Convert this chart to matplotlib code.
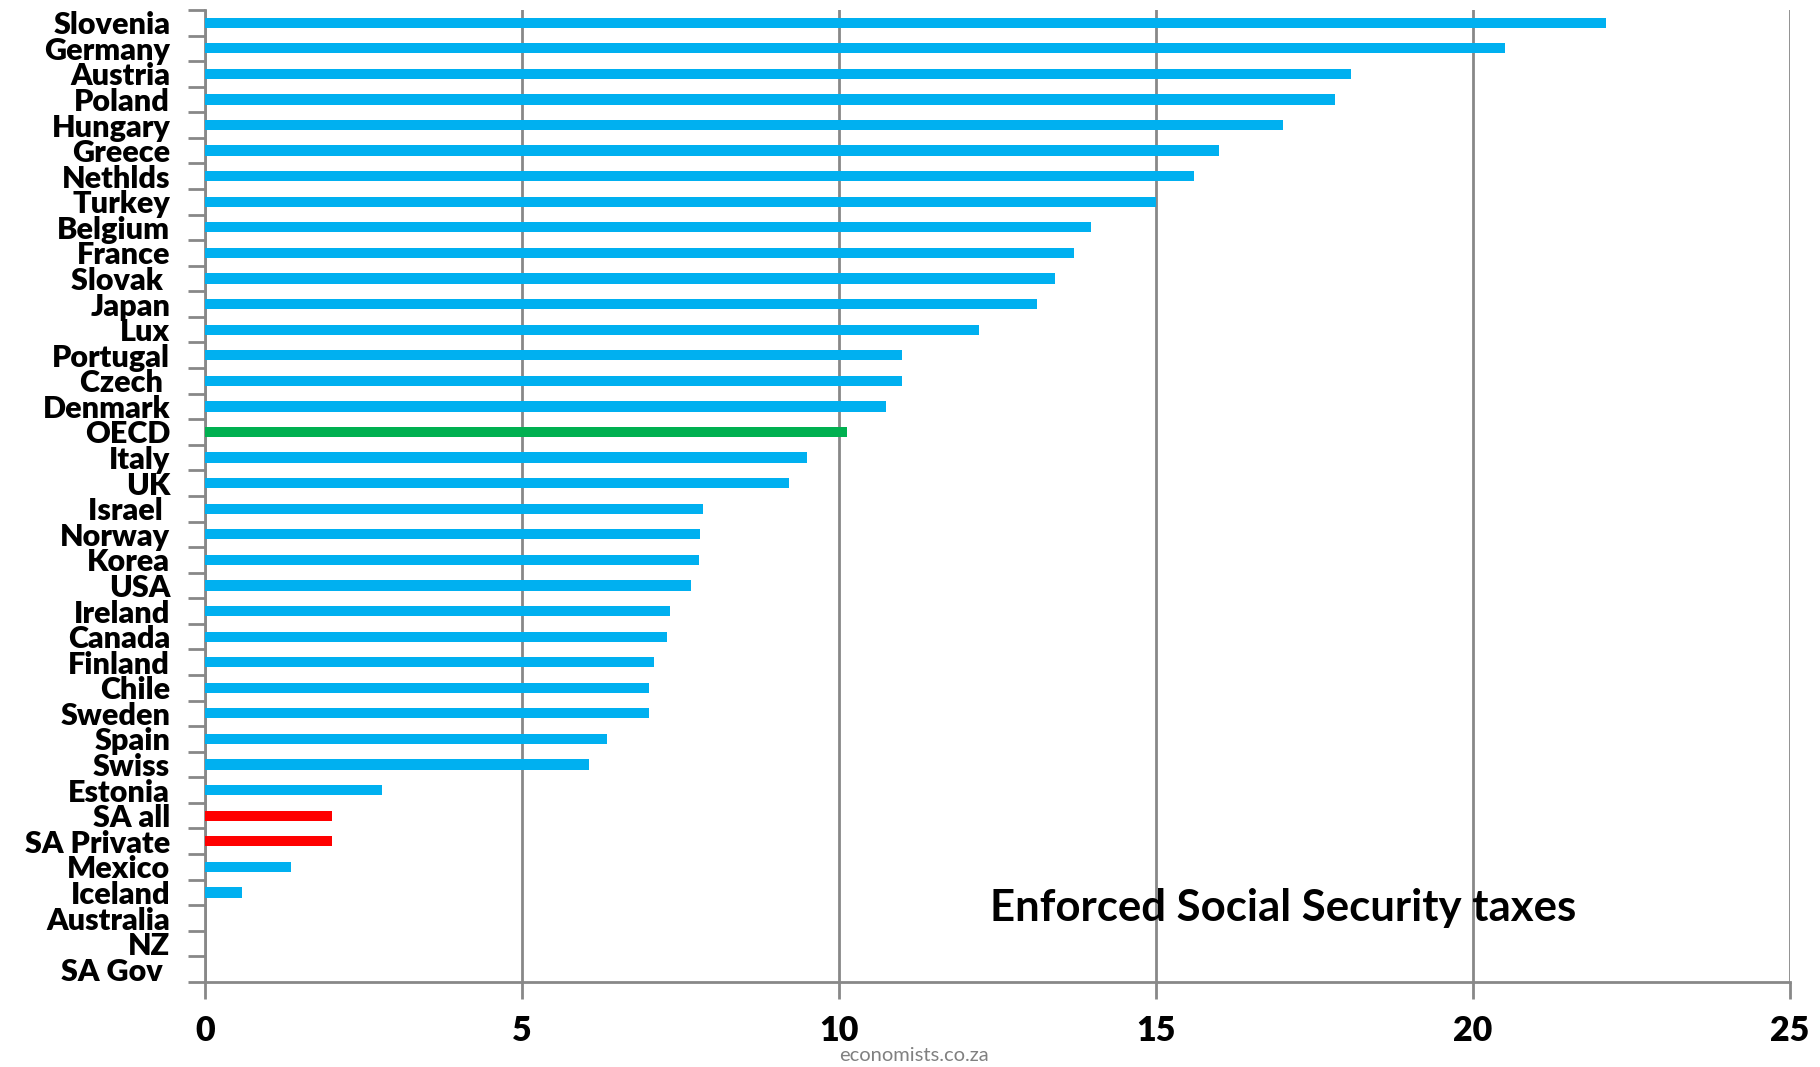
import matplotlib
matplotlib.use('Agg')
import matplotlib.pyplot as plt
import numpy as np

countries = ['Slovenia', 'Germany', 'Austria', 'Poland', 'Hungary', 'Greece', 'Nethlds',
             'Turkey', 'Belgium', 'France', 'Slovak ', 'Japan', 'Lux', 'Portugal', 'Czech ',
             'Denmark', 'OECD', 'Italy', 'UK', 'Israel ', 'Norway', 'Korea', 'USA', 'Ireland',
             'Canada', 'Finland', 'Chile', 'Sweden', 'Spain', 'Swiss', 'Estonia', 'SA all',
             'SA Private', 'Mexico', 'Iceland', 'Australia', 'NZ', 'SA Gov ']
values = [22.1, 20.5, 18.07, 17.83, 17.0, 16.0, 15.6, 15.0, 13.98, 13.71, 13.4, 13.12, 12.21,
          11.0, 11.0, 10.74, 10.13, 9.49, 9.22, 7.85, 7.81, 7.79, 7.66, 7.33, 7.29, 7.09,
          7.0, 7.0, 6.34, 6.05, 2.79, 2.0, 2.0, 1.36, 0.59, 0.0, 0.0, 0.0]
highlight = {'OECD': '#00B050', 'SA all': '#FF0000', 'SA Private': '#FF0000'}
x_ticks = [0, 5, 10, 15, 20, 25]

colors = [highlight.get(c, '#00B0F0') for c in countries]
ypos = np.arange(len(countries))

fig = plt.figure(figsize=(18.2, 10.67), dpi=100)
ax = fig.add_axes([0.1126, 0.0797, 0.8709, 0.911])
ax.barh(ypos, values, height=0.4, color=colors, zorder=3)
ax.set_ylim(len(countries) - 0.5, -0.5)
ax.set_xlim(0, 25)

# labels at bar centres, tick marks at category boundaries (Excel style)
ax.set_yticks(ypos)
ax.set_yticklabels(countries, fontfamily='Lato', fontweight='heavy', fontsize=22)
ax.tick_params(axis='y', length=0, pad=25)
ax.set_yticks(np.arange(len(countries) + 1) - 0.5, minor=True)
ax.tick_params(axis='y', which='minor', length=12, width=2, color='#888888')

ax.set_xticks(x_ticks)
ax.set_xticklabels([str(t) for t in x_ticks], fontfamily='Lato', fontweight='heavy', fontsize=24.5)
ax.tick_params(axis='x', length=12, width=2, color='#888888', pad=12)

ax.grid(axis='x', color='#888888', lw=2, zorder=1)
for s in ['top', 'right']:
    ax.spines[s].set_visible(False)
for s in ['left', 'bottom']:
    ax.spines[s].set_color('#888888')
    ax.spines[s].set_linewidth(2)

fig.text(0.705, 0.149, 'Enforced Social Security taxes', ha='center', va='center',
         fontfamily='Lato', fontweight='bold', fontsize=31.5)
fig.text(0.502, 0.0105, 'economists.co.za', ha='center', va='center',
         fontfamily='Lato', fontsize=14.5, color='#808080')

plt.savefig('out.png', dpi=100)
